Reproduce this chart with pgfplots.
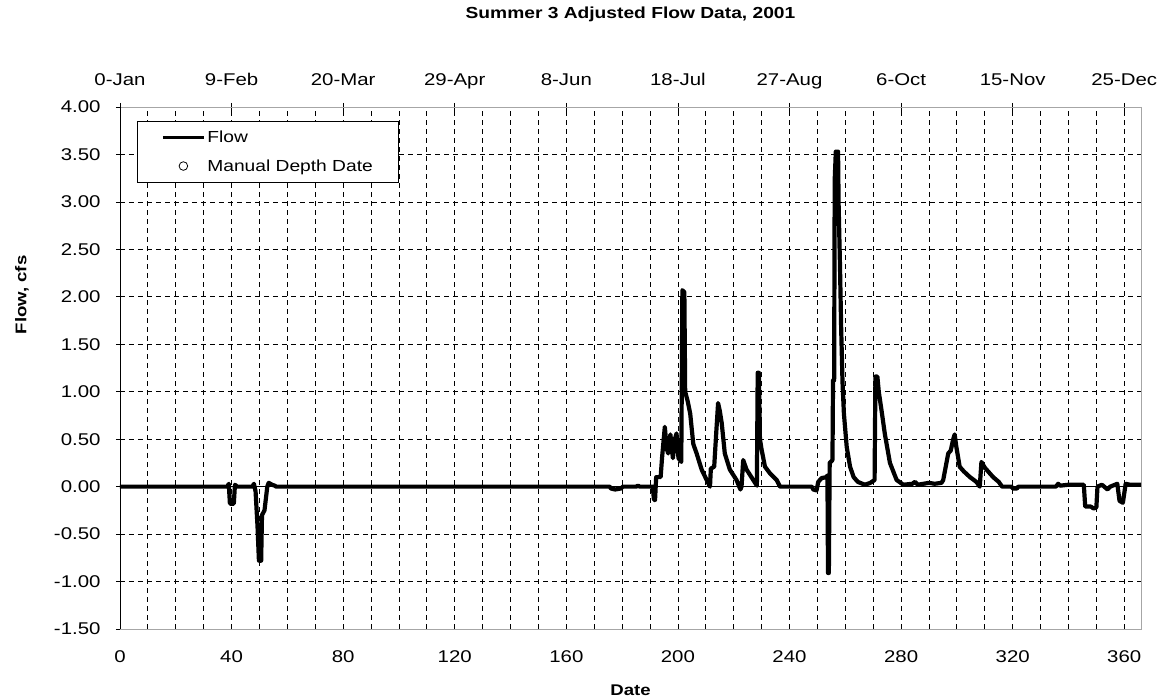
\documentclass[border=0pt]{standalone}
\usepackage{fontspec}
\setmainfont{Liberation Sans}[FakeStretch=1.2]
\usepackage{pgfplots}
\pgfplotsset{compat=1.18}

\begin{document}
\begin{tikzpicture}[font=\fontsize{17}{20}\selectfont]
\useasboundingbox (-120pt,-71pt) rectangle (1043pt,629pt);
% secondary (top) date axis
\begin{axis}[at={(0,0)},anchor=south west,scale only axis,width=1021pt,height=522pt,
  xmin=0,xmax=366,ymin=-1.5,ymax=4,
  axis x line=top,axis y line=none,axis line style={-,black,line width=0.8pt},
  xtick={0,40,...,360},
  xticklabels={0-Jan,9-Feb,20-Mar,29-Apr,8-Jun,18-Jul,27-Aug,6-Oct,15-Nov,25-Dec},
  typeset ticklabels with strut,
  tick label style={font=\fontsize{17}{20}\selectfont},
  tick align=center,major tick length=8pt,tick style={black,line width=0.8pt},
  xticklabel style={yshift=8pt}]
\end{axis}
% main axis
\begin{axis}[at={(0,0)},anchor=south west,scale only axis,width=1021pt,height=522pt,
  xmin=0,xmax=366,ymin=-1.5,ymax=4,
  axis line style={draw=gray!70,line width=0.8pt},
  xtick={0,40,...,360},xticklabels={0,40,80,120,160,200,240,280,320,360},
  minor x tick num=3,
  ytick={-1.5,-1,...,4},
  yticklabels={-1.50,-1.00,-0.50,0.00,0.50,1.00,1.50,2.00,2.50,3.00,3.50,4.00},
  xtick pos=bottom,ytick pos=left,
  tick label style={font=\fontsize{17}{20}\selectfont},
  tick align=center,major tick length=8pt,minor tick length=0pt,
  xtick style={draw=none},ytick style={black,line width=0.8pt},
  grid=both,
  major grid style={black,line width=0.8pt,dash pattern=on 5pt off 4pt},
  minor grid style={black,line width=0.8pt,dash pattern=on 5pt off 4pt},
  xticklabel style={yshift=-14pt},
  yticklabel style={xshift=-12pt},
  title={\bfseries Summer 3 Adjusted Flow Data, 2001},
  title style={at={(0.5,1)},anchor=center,yshift=87pt,font=\fontsize{16}{19}\selectfont},
  xlabel={\bfseries Date},
  xlabel style={at={(0.5,0)},anchor=center,yshift=-61pt,font=\fontsize{15.5}{18}\selectfont},
  ylabel={\bfseries Flow, cfs},
  ylabel style={at={(axis description cs:-0.096,0.64)},anchor=center,font=\fontsize{15.5}{18}\selectfont},
  legend style={at={(0.01665,0.97318)},anchor=north west,draw=black,line width=0.8pt,fill=white,
    inner xsep=24pt,inner ysep=8pt,row sep=11pt,font=\fontsize{16}{19}\selectfont,
    /tikz/every even column/.append style={column sep=0pt}},
  legend cell align=left,
  clip=true]
\addplot[black,line width=0.7pt,forget plot] coordinates {(0,0) (366,0)};
\addplot[black,line width=4.2pt,line join=round,
  legend image code/.code={\path[draw=none,fill=none] (0pt,-5pt) rectangle (41pt,5pt);
    \draw[black,line width=3pt] (0pt,0pt) -- (41pt,0pt);}] coordinates {
(0,0) (38.5,0) (39,0.03) (39.4,-0.18) (40.8,-0.18) (41.2,0.02) (42,0.0)
(47.5,0) (48,0.03) (48.6,-0.05) (49.3,-0.42) (49.8,-0.78) (50.6,-0.78) (50.9,-0.3)
(51.8,-0.25) (52.8,0.0) (53.3,0.04) (54.5,0.02) (55.5,0.01) (56,0)
(175.5,0) (176,-0.02) (177.5,-0.03) (179.5,-0.02) (180.3,0) (185,0) (185.7,0.01) (186.3,0)
(191,0) (191.4,-0.14) (191.8,-0.14) (192.2,0.1) (193.8,0.1) (194.3,0.3) (195.3,0.63)
(196.0,0.4) (196.5,0.35) (197.3,0.55) (198.2,0.3) (198.9,0.5) (199.5,0.56) (200.2,0.3)
(201.2,0.26) (201.6,2.07) (202.3,2.05) (202.6,1.0) (203.5,0.9) (204.4,0.77) (205.5,0.45)
(206.7,0.35) (208.5,0.18) (210.3,0.07) (211.5,0.0) (211.8,0.19) (213.0,0.21) (213.8,0.6)
(214.4,0.88) (215.0,0.8) (215.7,0.67) (216.8,0.35) (218.6,0.18) (221,0.07) (222.4,-0.03)
(222.8,0.0) (223.4,0.28) (224.6,0.18) (227,0.07) (228.3,0.01) (228.6,1.2) (229.0,1.2)
(229.4,0.5) (230,0.39) (231.2,0.21) (233,0.14) (235.4,0.07) (236.6,0.0) (248,0)
(248.5,-0.03) (249.7,-0.04) (250.3,0.05) (251.5,0.09) (253.3,0.1) (253.6,0.12)
(253.8,-0.91) (254.1,-0.91) (254.4,0.25) (255.4,0.28) (255.6,1.12) (256.0,1.12)
(256.2,3.23) (256.6,3.53) (257.4,3.53) (257.6,2.98) (258.1,2.32) (258.5,1.69) (259.0,1.1)
(259.5,0.77) (260.5,0.42) (261.7,0.21) (263,0.1) (264.5,0.05) (267,0.02) (269,0.04)
(270.5,0.07) (270.8,1.16) (271.5,1.16) (272,1.0) (273,0.8) (274.2,0.55) (276,0.25)
(278.4,0.07) (280.8,0.02) (284,0.03) (285,0.05) (286,0.02) (288,0.03) (290,0.04)
(292,0.03) (294.5,0.04) (295.1,0.07) (296.9,0.35) (297.8,0.38) (298.6,0.49) (299.2,0.55)
(299.8,0.42) (301,0.21) (302.5,0.16) (304.7,0.1) (307,0.05) (308.2,0.0) (308.8,0.26)
(310,0.2) (311.2,0.16) (313,0.1) (315,0.05) (316.2,0.0) (319.5,0.0) (320.2,-0.02)
(321.5,-0.02) (322,0) (335.5,0) (336.3,0.03) (337,0.01) (340,0.02) (345.5,0.02)
(346,-0.21) (348,-0.21) (349,-0.23) (350,-0.22) (350.4,0.0) (352,0.02) (354,-0.03)
(355,0) (357.5,0.03) (358.3,-0.15) (359.5,-0.17) (360.5,0.03) (362,0.02) (366,0.02)
};
\addlegendentry{Flow}
\addlegendimage{legend image code/.code={\path[draw=none,fill=none] (0pt,-5pt) rectangle (41pt,5pt);
  \draw[black,line width=0.8pt,fill=none] (20.5pt,0pt) circle (4.3pt);}}
\addlegendentry{Manual Depth Date}
\draw[black,line width=0.8pt] (rel axis cs:0,0) -- (rel axis cs:0,1);
\end{axis}
\end{tikzpicture}
\end{document}
